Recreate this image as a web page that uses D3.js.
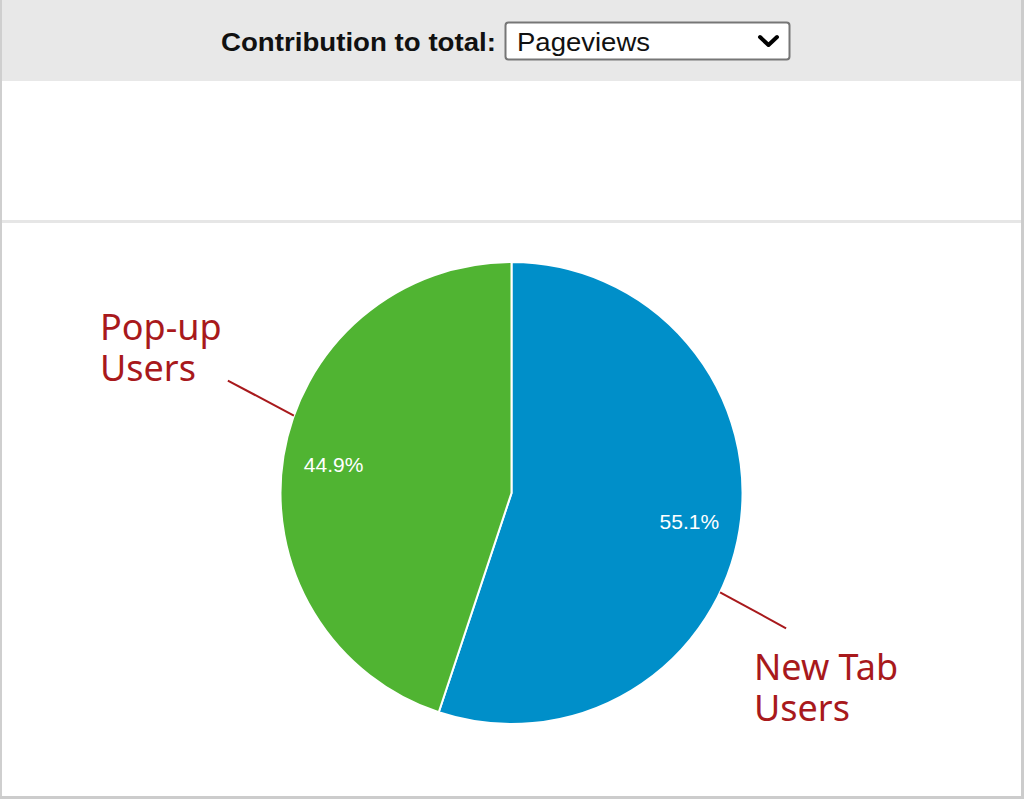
<!DOCTYPE html>
<html>
<head>
<meta charset="utf-8">
<title>Contribution to total</title>
<script src="https://cdn.jsdelivr.net/npm/d3@7"></script>
<style>
  body { margin: 0; background: #fff; }
  svg { display: block; }
  .hdr { font-family: "Liberation Sans", Arial, sans-serif; }
  .pct { font-family: "Liberation Sans", Arial, sans-serif; font-size: 21px; fill: #fff; }
  .note { font-family: "Noto Sans", sans-serif; font-size: 36px; fill: #a8191c; }
</style>
</head>
<body>
<script>
// data
var categories = ["New Tab Users", "Pop-up Users"];
var shares = [55.1, 44.9];
var colors = ["#008fc9", "#50b432"];
var noteLines = [["New Tab", "Users"], ["Pop-up", "Users"]];

var width = 1024, height = 799;
var cx = 511.5, cy = 493, r = 231;

var svg = d3.select("body").append("svg")
    .attr("width", width)
    .attr("height", height);

// frame
svg.append("rect").attr("x", 0).attr("y", 0).attr("width", width).attr("height", height).attr("fill", "#fff");
svg.append("rect").attr("x", 0).attr("y", 0).attr("width", 1022).attr("height", 81).attr("fill", "#e8e8e8");
svg.append("rect").attr("x", 0).attr("y", 220).attr("width", 1022).attr("height", 3).attr("fill", "#e6e6e6");
svg.append("rect").attr("x", 0).attr("y", 0).attr("width", 2).attr("height", height).attr("fill", "#cfcfcf");
svg.append("rect").attr("x", 1021).attr("y", 0).attr("width", 3).attr("height", height).attr("fill", "#cccccc");
svg.append("rect").attr("x", 0).attr("y", 796).attr("width", width).attr("height", 3).attr("fill", "#cccccc");

// header
svg.append("text").attr("class", "hdr")
    .attr("x", 496).attr("y", 51)
    .attr("text-anchor", "end")
    .attr("font-size", 26).attr("font-weight", "bold").attr("fill", "#111")
    .attr("textLength", 275).attr("lengthAdjust", "spacingAndGlyphs")
    .text("Contribution to total:");
svg.append("rect")
    .attr("x", 505.5).attr("y", 22.5).attr("width", 284).attr("height", 37)
    .attr("rx", 3).attr("fill", "#fff").attr("stroke", "#767676").attr("stroke-width", 2);
svg.append("text").attr("class", "hdr")
    .attr("x", 517).attr("y", 51)
    .attr("font-size", 26).attr("fill", "#111")
    .attr("textLength", 133).attr("lengthAdjust", "spacingAndGlyphs")
    .text("Pageviews");
svg.append("path")
    .attr("d", "M760,37 L768.5,45 L777,37")
    .attr("fill", "none").attr("stroke", "#000").attr("stroke-width", 4)
    .attr("stroke-linecap", "round").attr("stroke-linejoin", "round");

// pie
var data = categories.map(function(c, i) { return {name: c, value: shares[i], color: colors[i], note: noteLines[i]}; });
var pie = d3.pie().sort(null).value(function(d) { return d.value; });
var arc = d3.arc().innerRadius(0).outerRadius(r);
var labelArc = d3.arc().innerRadius(r * 0.78).outerRadius(r * 0.78);
var arcs = pie(data);

var g = svg.append("g").attr("transform", "translate(" + cx + "," + cy + ")");

g.selectAll("path.slice").data(arcs).enter().append("path")
    .attr("class", "slice")
    .attr("d", arc)
    .attr("fill", function(d) { return d.data.color; })
    .attr("stroke", "#fff").attr("stroke-width", 2);

g.selectAll("text.pct").data(arcs).enter().append("text")
    .attr("class", "pct")
    .attr("transform", function(d) { return "translate(" + labelArc.centroid(d) + ")"; })
    .attr("text-anchor", "middle").attr("dy", "0.35em")
    .text(function(d) { return d.data.value.toFixed(1) + "%"; });

// annotations: leader lines start on the rim and point outward
var leaderAngle = [2.015, -1.229]; // radians from 12 o'clock, clockwise
var leaderOff = [[66, 36], [-66, -35]];
var noteX = [754, 100];
var noteY = [680, 340];
arcs.forEach(function(d, i) {
  var a = leaderAngle[i];
  var x0 = cx + Math.sin(a) * r, y0 = cy - Math.cos(a) * r;
  svg.append("line")
      .attr("x1", x0).attr("y1", y0)
      .attr("x2", x0 + leaderOff[i][0]).attr("y2", y0 + leaderOff[i][1])
      .attr("stroke", "#a8191c").attr("stroke-width", 2);
  var t = svg.append("text").attr("class", "note").attr("x", noteX[i]).attr("y", noteY[i]);
  d.data.note.forEach(function(s, k) {
    t.append("tspan").attr("x", noteX[i]).attr("dy", k === 0 ? 0 : 41).text(s);
  });
});
</script>
</body>
</html>
